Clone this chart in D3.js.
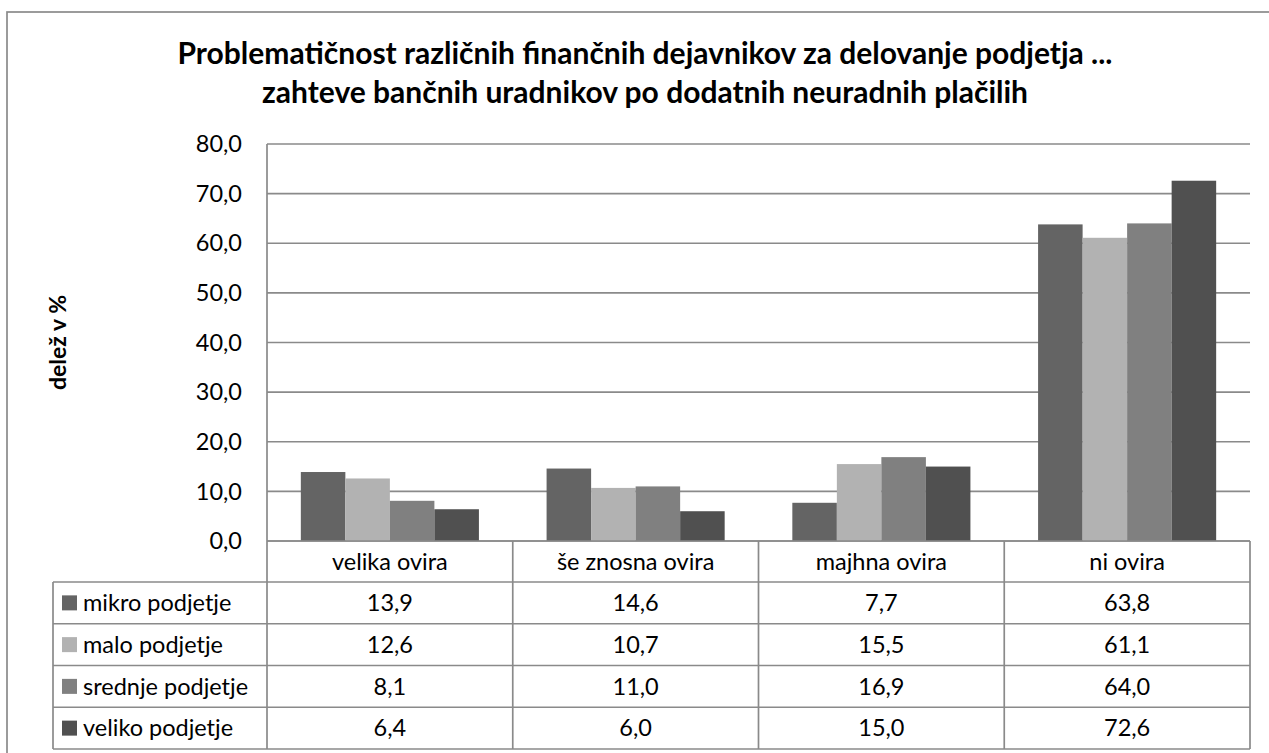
<!DOCTYPE html>
<html lang="sl">
<head>
	<title>Problematičnost finančnih dejavnikov</title>
	<meta charset="utf-8">
	<script src="https://d3js.org/d3.v7.min.js"></script>
	<style type="text/css">
		body {
			margin: 0;
			background: #fff;
			font-family: Lato, "Open Sans", sans-serif;
		}

		.title {
			font-weight: bold;
			font-size: 30px;
			fill: #000;
			text-anchor: middle;
		}

		.grid line {
			stroke: #8a8a8a;
			stroke-width: 1.7;
		}

		.tick-label,
		.cell {
			font-size: 23.5px;
			fill: #000;
		}

		.y-title {
			font-size: 23px;
			font-weight: bold;
		}

		.rule {
			stroke: #8a8a8a;
			stroke-width: 1.7;
			fill: none;
		}
	</style>
</head>
<body>
	<div id="vis"></div>

	<script type="text/javascript">

		/* Data */
		/* ==== */

		var categories = ['velika ovira', 'še znosna ovira', 'majhna ovira', 'ni ovira'];
		var seriesNames = ['mikro podjetje', 'malo podjetje', 'srednje podjetje', 'veliko podjetje'];
		var seriesColors = ['#646464', '#b2b2b2', '#808080', '#505050'];

		var mikro = [13.9, 14.6, 7.7, 63.8];
		var malo = [12.6, 10.7, 15.5, 61.1];
		var srednje = [8.1, 11.0, 16.9, 64.0];
		var veliko = [6.4, 6.0, 15.0, 72.6];

		var yTicks = [0, 10, 20, 30, 40, 50, 60, 70, 80];

		var titleLines = [
			'Problematičnost različnih finančnih dejavnikov za delovanje podjetja ...',
			'zahteve bančnih uradnikov po dodatnih neuradnih plačilih'
		];
		var yTitle = 'delež v %';


		function make() {

			var values = [mikro, malo, srednje, veliko];
			var fmt = function (v) { return d3.format('.1f')(v).replace('.', ','); };

			/* Dimensions */
			/* ---------- */

			var width = 1269, height = 753;
			var plot = { left: 267, right: 1250, top: 144, bottom: 541 };
			var table = { left: 53, headerBottom: 582, rowH: 41.75 };

			var svg = d3.select('#vis')
				.append('svg')
				.attr('width', width)
				.attr('height', height);

			// chart frame, runs off the right and bottom edge
			svg.append('rect')
				.attr('class', 'rule')
				.attr('x', 7)
				.attr('y', 12)
				.attr('width', 1300)
				.attr('height', 800);

			/* Title */

			svg.selectAll('.title')
				.data(titleLines).enter()
				.append('text')
				.attr('class', 'title')
				.attr('x', 645)
				.attr('y', function (d, i) { return 64 + i * 39; })
				.text(function (d) { return d; });

			/* Scales */
			/* ====== */

			var yScale = d3.scaleLinear()
				.domain([0, 80])
				.range([plot.bottom, plot.top]);

			var xScale = d3.scaleBand()
				.domain(categories)
				.range([plot.left, plot.right]);

			var xInner = d3.scaleBand()
				.domain(seriesNames)
				.range([0, xScale.bandwidth()])
				.paddingOuter(0.76);

			/* Grid and axis */
			/* ------------- */

			var grid = svg.append('g').attr('class', 'grid');

			grid.selectAll('line')
				.data(yTicks).enter()
				.append('line')
				.attr('x1', plot.left)
				.attr('x2', plot.right)
				.attr('y1', function (d) { return yScale(d); })
				.attr('y2', function (d) { return yScale(d); });

			svg.append('line')
				.attr('class', 'rule')
				.attr('x1', plot.left).attr('x2', plot.left)
				.attr('y1', plot.top).attr('y2', plot.bottom);

			svg.selectAll('.tick-label')
				.data(yTicks).enter()
				.append('text')
				.attr('class', 'tick-label')
				.attr('x', 242)
				.attr('y', function (d) { return yScale(d); })
				.attr('dy', '0.35em')
				.attr('text-anchor', 'end')
				.text(fmt);

			svg.append('text')
				.attr('class', 'y-title')
				.attr('transform', 'translate(58,' + ((plot.top + plot.bottom) / 2) + ') rotate(-90)')
				.attr('text-anchor', 'middle')
				.attr('dy', '0.35em')
				.text(yTitle);

			/* Bars */
			/* ==== */

			var gBars = svg.append('g').attr('class', 'bars');

			seriesNames.forEach(function (s, si) {
				gBars.selectAll('.bar-' + si)
					.data(values[si]).enter()
					.append('rect')
					.attr('class', 'bar-' + si)
					.attr('x', function (d, i) { return xScale(categories[i]) + xInner(s); })
					.attr('width', xInner.bandwidth())
					.attr('y', function (d) { return yScale(d); })
					.attr('height', function (d) { return yScale(0) - yScale(d); })
					.style('fill', seriesColors[si]);
			});

			/* Data table */
			/* ========== */

			var gTable = svg.append('g').attr('class', 'table');
			var rowTop = function (i) { return table.headerBottom + i * table.rowH; };
			var tableBottom = rowTop(seriesNames.length);

			// header row
			gTable.append('line').attr('class', 'rule')
				.attr('x1', plot.left).attr('x2', plot.right)
				.attr('y1', plot.bottom).attr('y2', plot.bottom);

			gTable.selectAll('.head')
				.data(categories).enter()
				.append('text')
				.attr('class', 'cell head')
				.attr('x', function (d) { return xScale(d) + xScale.bandwidth() / 2; })
				.attr('y', (plot.bottom + table.headerBottom) / 2)
				.attr('dy', '0.35em')
				.attr('text-anchor', 'middle')
				.text(function (d) { return d; });

			// horizontal rules
			gTable.selectAll('.hrule')
				.data(d3.range(seriesNames.length + 1)).enter()
				.append('line')
				.attr('class', 'rule hrule')
				.attr('x1', table.left).attr('x2', plot.right)
				.attr('y1', rowTop).attr('y2', rowTop);

			// vertical rules
			gTable.append('line').attr('class', 'rule')
				.attr('x1', table.left).attr('x2', table.left)
				.attr('y1', table.headerBottom).attr('y2', tableBottom);

			gTable.selectAll('.vrule')
				.data(categories.concat(['end'])).enter()
				.append('line')
				.attr('class', 'rule vrule')
				.attr('x1', function (d) { return d === 'end' ? plot.right : xScale(d); })
				.attr('x2', function (d) { return d === 'end' ? plot.right : xScale(d); })
				.attr('y1', plot.bottom).attr('y2', tableBottom);

			// legend keys
			var rows = gTable.selectAll('.row')
				.data(seriesNames).enter()
				.append('g')
				.attr('class', 'row')
				.attr('transform', function (d, i) { return 'translate(0,' + rowTop(i) + ')'; });

			rows.append('rect')
				.attr('x', 62)
				.attr('y', table.rowH / 2 - 7.5)
				.attr('width', 15)
				.attr('height', 15)
				.style('fill', function (d, i) { return seriesColors[i]; });

			rows.append('text')
				.attr('class', 'cell')
				.attr('x', 83)
				.attr('y', table.rowH / 2)
				.attr('dy', '0.35em')
				.text(function (d) { return d; });

			// values
			rows.selectAll('.val')
				.data(function (d, i) { return values[i]; }).enter()
				.append('text')
				.attr('class', 'cell val')
				.attr('x', function (d, i) { return xScale(categories[i]) + xScale.bandwidth() / 2; })
				.attr('y', table.rowH / 2)
				.attr('dy', '0.35em')
				.attr('text-anchor', 'middle')
				.text(fmt);

		} // make()

		make();

	</script>
</body>
</html>
